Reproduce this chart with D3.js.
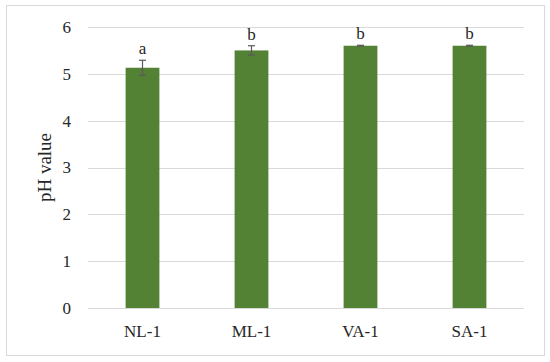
<!DOCTYPE html>
<html>
<head>
<meta charset="utf-8">
<script src="https://cdn.jsdelivr.net/npm/d3@7"></script>
<style>
  body { margin: 0; background: #fff; }
  text { font-family: "Liberation Serif", "DejaVu Serif", serif; fill: #262626; }
</style>
</head>
<body>
<div id="chart"></div>
<script>
// chart values
var categories = ['NL-1', 'ML-1', 'VA-1', 'SA-1'];
var phValues = [5.13, 5.50, 5.60, 5.60];
var errValues = [0.16, 0.10, 0.01, 0.01];
var letters = ['a', 'b', 'b', 'b'];
var yTicks = [0, 1, 2, 3, 4, 5, 6];

var width = 550, height = 362;
var margin = { top: 27, right: 26, bottom: 54, left: 88 };

var svg = d3.select('#chart').append('svg')
  .attr('width', width)
  .attr('height', height);

// outer frame
svg.append('rect')
  .attr('x', 6.5).attr('y', 5.5)
  .attr('width', 538).attr('height', 350)
  .attr('fill', '#fff')
  .attr('stroke', '#d9d9d9')
  .attr('stroke-width', 1);

var x = d3.scaleBand()
  .domain(categories)
  .range([margin.left, width - margin.right])
  .paddingInner(0.69)
  .paddingOuter(0.345);

var y = d3.scaleLinear()
  .domain([0, 6])
  .range([height - margin.bottom, margin.top]);

// gridlines
svg.append('g')
  .selectAll('line')
  .data(yTicks)
  .enter().append('line')
  .attr('x1', margin.left)
  .attr('x2', width - margin.right)
  .attr('y1', function(d) { return Math.round(y(d)) + 0.5; })
  .attr('y2', function(d) { return Math.round(y(d)) + 0.5; })
  .attr('stroke', '#d9d9d9')
  .attr('stroke-width', 1);

// y axis labels
var yAxis = d3.axisLeft(y).tickValues(yTicks).tickFormat(d3.format('d')).tickSize(0).tickPadding(17);
var gy = svg.append('g')
  .attr('transform', 'translate(' + margin.left + ',0)')
  .call(yAxis);
gy.select('.domain').remove();
gy.selectAll('text')
  .style('font-family', '"Liberation Serif", serif')
  .style('font-size', '17px')
  .attr('fill', '#262626');

// x axis labels
var xAxis = d3.axisBottom(x).tickSize(0).tickPadding(17);
var gx = svg.append('g')
  .attr('transform', 'translate(0,' + (height - margin.bottom) + ')')
  .call(xAxis);
gx.select('.domain').remove();
gx.selectAll('text')
  .style('font-family', '"Liberation Serif", serif')
  .style('font-size', '17px')
  .attr('fill', '#262626');

// bars
svg.append('g')
  .selectAll('rect')
  .data(categories)
  .enter().append('rect')
  .attr('x', function(d) { return x(d); })
  .attr('y', function(d, i) { return y(phValues[i]); })
  .attr('width', x.bandwidth())
  .attr('height', function(d, i) { return y(0) - y(phValues[i]); })
  .attr('fill', '#548235');

// error bars
var eb = svg.append('g')
  .attr('stroke', '#595959')
  .attr('stroke-width', 1.2);
categories.forEach(function(c, i) {
  var cx = x(c) + x.bandwidth() / 2;
  var hi = y(phValues[i] + errValues[i]);
  var lo = y(phValues[i] - errValues[i]);
  eb.append('line').attr('x1', cx).attr('x2', cx).attr('y1', hi).attr('y2', lo);
  eb.append('line').attr('x1', cx - 3.5).attr('x2', cx + 3.5).attr('y1', hi).attr('y2', hi);
  eb.append('line').attr('x1', cx - 3.5).attr('x2', cx + 3.5).attr('y1', lo).attr('y2', lo);
});

// significance letters
svg.append('g')
  .selectAll('text')
  .data(categories)
  .enter().append('text')
  .attr('x', function(d) { return x(d) + x.bandwidth() / 2; })
  .attr('y', function(d, i) { return y(phValues[i] + errValues[i]) - 6; })
  .attr('text-anchor', 'middle')
  .style('font-size', '17px')
  .text(function(d, i) { return letters[i]; });

// y axis title
svg.append('text')
  .attr('transform', 'translate(51,' + ((margin.top + height - margin.bottom) / 2) + ') rotate(-90)')
  .attr('text-anchor', 'middle')
  .style('font-size', '19px')
  .text('pH value');
</script>
</body>
</html>
